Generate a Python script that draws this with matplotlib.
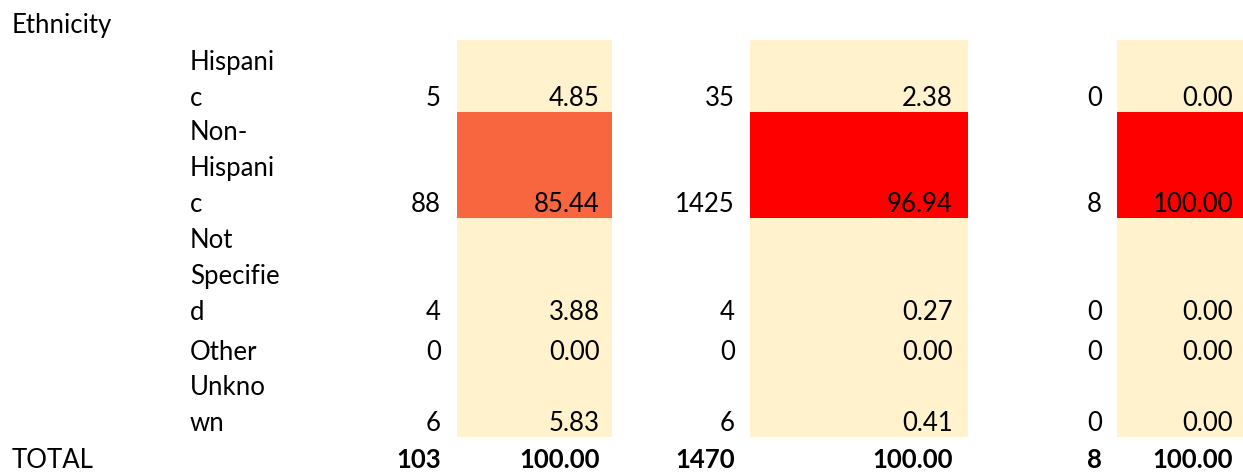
import matplotlib
matplotlib.use("Agg")
from matplotlib import pyplot as plt
from matplotlib.colors import LinearSegmentedColormap

plt.rcParams['font.family'] = ['Lato', 'DejaVu Sans']

# table data
header = "Ethnicity"
total_label = "TOTAL"
# labels as they wrap in the narrow sheet column
label_lines = [["Hispani", "c"],
               ["Non-", "Hispani", "c"],
               ["Not", "Specifie", "d"],
               ["Other"],
               ["Unkno", "wn"]]
counts_a = [5, 88, 4, 0, 6]
pct_a = [4.85, 85.44, 3.88, 0.00, 5.83]
total_a = 103
counts_b = [35, 1425, 4, 0, 6]
pct_b = [2.38, 96.94, 0.27, 0.00, 0.41]
total_b = 1470
counts_c = [0, 8, 0, 0, 0]
pct_c = [0.00, 100.00, 0.00, 0.00, 0.00]
total_c = 8

# layout in pixels (sheet geometry)
row_tops = [41, 113, 219, 327, 367]
row_bottoms = [113, 219, 327, 367, 438]
line_step = 36
label_x = 190
# (count right edge, shade left, shade right, pct right edge)
groups = [
    (counts_a, pct_a, total_a, 441, 457, 612, 600),
    (counts_b, pct_b, total_b, 735, 750, 968, 953),
    (counts_c, pct_c, total_c, 1102, 1117, 1243, 1233),
]

# conditional-format style colour scale
cmap = LinearSegmentedColormap.from_list(
    "scale", [(0.0, "#FFF2CC"), (0.1, "#FFF2CC"), (0.8544, "#F8673F"),
              (0.95, "#FF0000"), (1.0, "#FF0000")])

fig = plt.figure(figsize=(12.43, 4.77), dpi=100)
ax = fig.add_axes([0, 0, 1, 1])
ax.set_xlim(0, 1243)
ax.set_ylim(477, 0)
ax.axis('off')

fs = 18.5
ax.text(12, 33, header, fontsize=fs, va='baseline', ha='left')

for i, lines in enumerate(label_lines):
    base = row_bottoms[i] - 7
    for k, ln in enumerate(lines):
        y = base - (len(lines) - 1 - k) * line_step
        ax.text(label_x, y, ln, fontsize=fs, va='baseline', ha='left')

for counts, pcts, total, cx, sl, sr, px in groups:
    heights = [b - t for t, b in zip(row_tops, row_bottoms)]
    ax.bar(sl, heights, width=sr - sl, bottom=row_tops, align='edge',
           color=[cmap(p / 100) for p in pcts], linewidth=0)
    for i in range(len(counts)):
        base = row_bottoms[i] - 7
        ax.text(cx, base, str(counts[i]), fontsize=fs, va='baseline', ha='right')
        ax.text(px, base, f"{pcts[i]:.2f}", fontsize=fs, va='baseline', ha='right')
    ax.text(cx, 468, str(total), fontsize=fs, va='baseline', ha='right',
            fontweight='bold')
    ax.text(px, 468, f"{sum(pcts):.2f}", fontsize=fs, va='baseline', ha='right',
            fontweight='bold')

ax.text(12, 468, total_label, fontsize=fs, va='baseline', ha='left')

fig.savefig("out.png", dpi=100)
